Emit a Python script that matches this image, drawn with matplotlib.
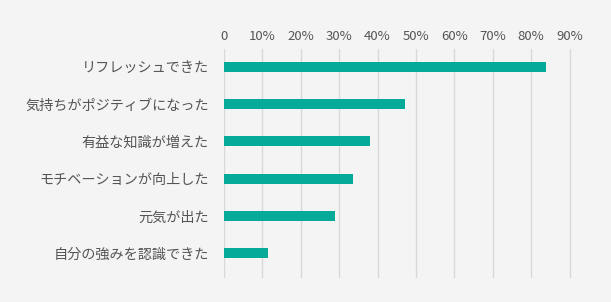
import matplotlib.pyplot as plt
from matplotlib.ticker import FuncFormatter

plt.rcParams['font.family'] = ['Noto Sans CJK JP', 'DejaVu Sans']

labels = ["リフレッシュできた", "気持ちがポジティブになった", "有益な知識が増えた",
          "モチベーションが向上した", "元気が出た", "自分の強みを認識できた"]
values = [83.8, 47.1, 38.0, 33.6, 28.9, 11.5]
ticks = [0, 10, 20, 30, 40, 50, 60, 70, 80, 90]

bg = '#f4f4f4'
bar_color = '#05ab98'
text_color = '#555555'

fig = plt.figure(figsize=(6.11, 3.02), dpi=100, facecolor=bg)
ax = fig.add_axes([224 / 611, 24 / 302, 384 / 611, 229 / 302], facecolor=bg)

ypos = list(range(len(labels)))
ax.barh(ypos, values, height=0.27, color=bar_color, zorder=3)

ax.set_xlim(0, 100)
ax.set_ylim(5.67, -0.48)
ax.set_xticks(ticks)
ax.xaxis.set_major_formatter(FuncFormatter(lambda v, p: "0" if v == 0 else f"{v:.0f}%"))
ax.xaxis.tick_top()
ax.set_yticks(ypos)
ax.set_yticklabels(labels)
ax.tick_params(axis='x', length=0, pad=4.5, labelsize=9.5, colors=text_color)
ax.tick_params(axis='y', length=0, pad=11, labelsize=10.2, colors=text_color)

ax.grid(axis='x', color='#d9d9d9', linewidth=1, zorder=0)
for s in ax.spines.values():
    s.set_visible(False)

fig.savefig("out.png", dpi=100, facecolor=bg)
